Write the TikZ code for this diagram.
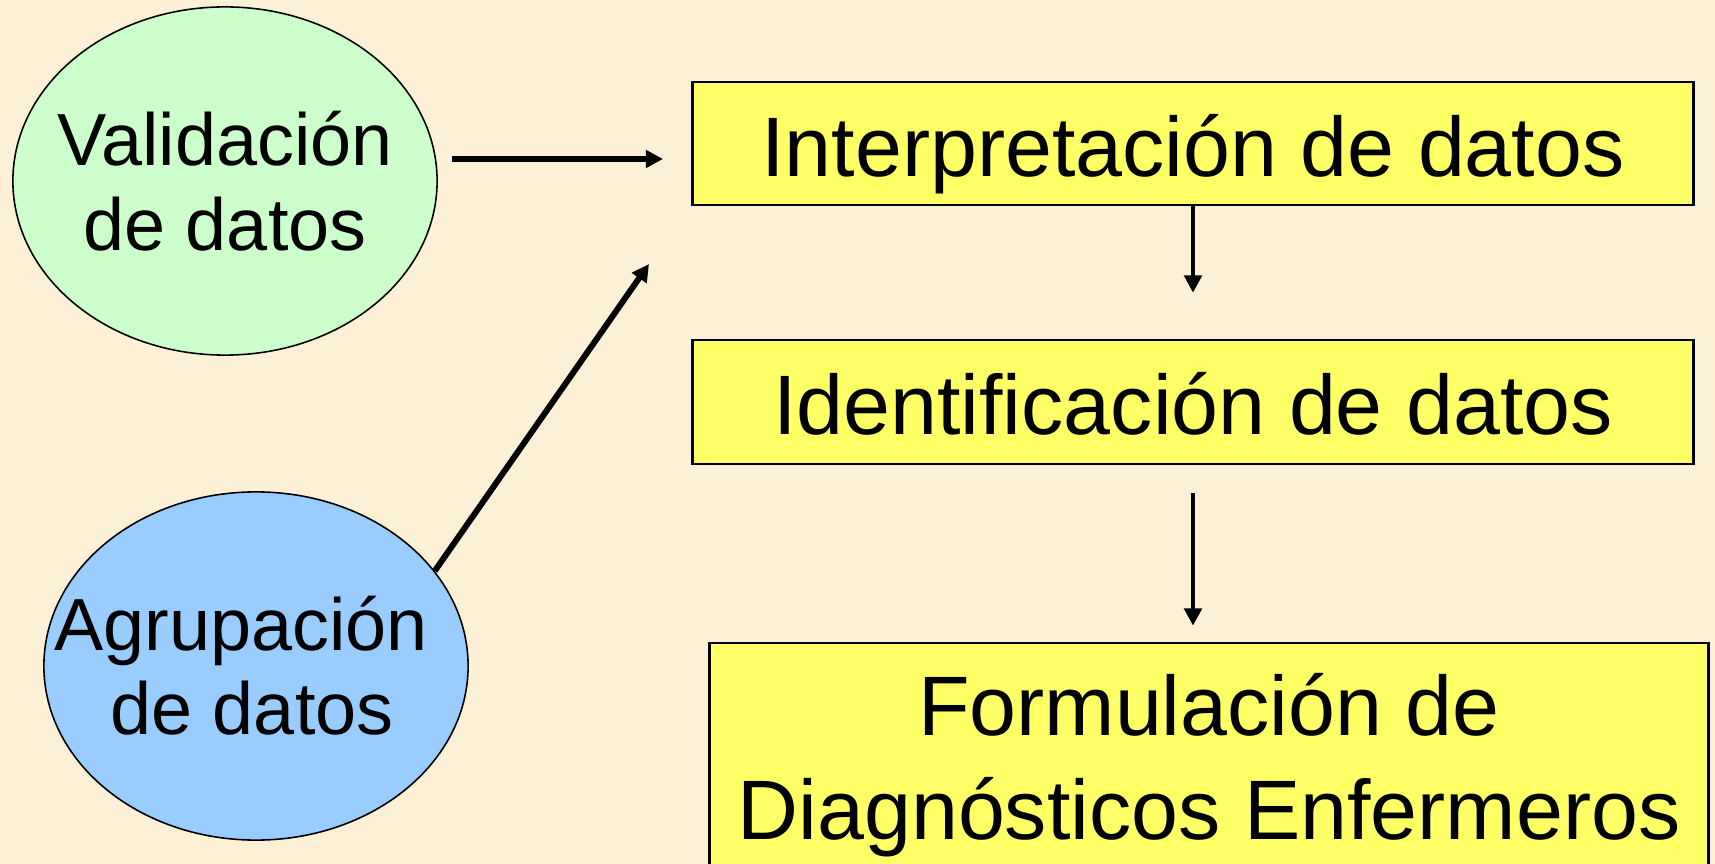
\documentclass[tikz,border=0pt]{standalone}
\usepackage{fontspec}
\setmainfont{Liberation Sans}
\usetikzlibrary{arrows.meta,shapes.geometric}
\definecolor{bgcol}{RGB}{252,241,215}
\definecolor{greenfill}{RGB}{204,255,204}
\definecolor{bluefill}{RGB}{153,204,255}
\definecolor{yellowfill}{RGB}{255,255,102}
\tikzset{
  oval/.style={ellipse, draw=black, line width=0.45pt, minimum width=4.24cm, minimum height=3.48cm, inner sep=0pt},
  ovaltext/.style={anchor=base, inner sep=0pt, font=\fontsize{21}{24.15}\selectfont},
  stepbox/.style={rectangle, draw=black, line width=0.7pt, fill=yellowfill, inner sep=0pt, font=\fontsize{24}{29.3}\selectfont},
  thickarr/.style={line width=1.7pt, -{Triangle[length=4.9pt,width=4.9pt]}},
  thinarr/.style={line width=1.4pt, -{Triangle[length=4.9pt,width=4.9pt]}}
}
\begin{document}
\begin{tikzpicture}[x=0.01cm,y=-0.01cm]
\clip (0,0) rectangle (1715,864);
\fill[bgcol] (0,0) rectangle (1715,864);

% ovals
\node[oval, fill=greenfill] (val) at (225,181) {};
\node[ovaltext] (valtxt) at (225,166) {\begin{tabular}[t]{@{}c@{}}Validación\\de datos\end{tabular}};
\node[oval, fill=bluefill] (agr) at (256,666) {};
\node[ovaltext] (agrtxt) at (252,650) {\begin{tabular}[t]{@{}c@{}}Agrupación\hspace*{0.3em}\\de datos\end{tabular}};

% boxes
\node[stepbox, minimum width=10.00cm, minimum height=1.23cm, text height=0.65cm, text depth=0cm] (int) at (1193,143.5) {Interpretación de datos};
\node[stepbox, minimum width=10.00cm, minimum height=1.24cm, text height=0.64cm, text depth=0cm] (ide) at (1193,402) {Identificación de datos};
\node[stepbox, minimum width=9.98cm, minimum height=2.40cm, text height=0cm, text depth=0.54cm] (for) at (1209,763) {\begin{tabular}[t]{@{}c@{}}Formulación de\\Diagnósticos Enfermeros\end{tabular}};

% free arrow ends
\coordinate (hstart) at (452,159);
\coordinate (hend) at (663,159);
\coordinate (dend) at (649,264);

% connectors
\draw[thickarr] (hstart) -- (hend);
\draw[thickarr] (agr.28) -- (dend);
\draw[thinarr, shorten >=0.46cm] (int.south) -- (ide.north);
\draw[thinarr, shorten <=0.28cm, shorten >=0.16cm] (ide.south) -- (ide.south |- for.north);
\end{tikzpicture}
\end{document}
